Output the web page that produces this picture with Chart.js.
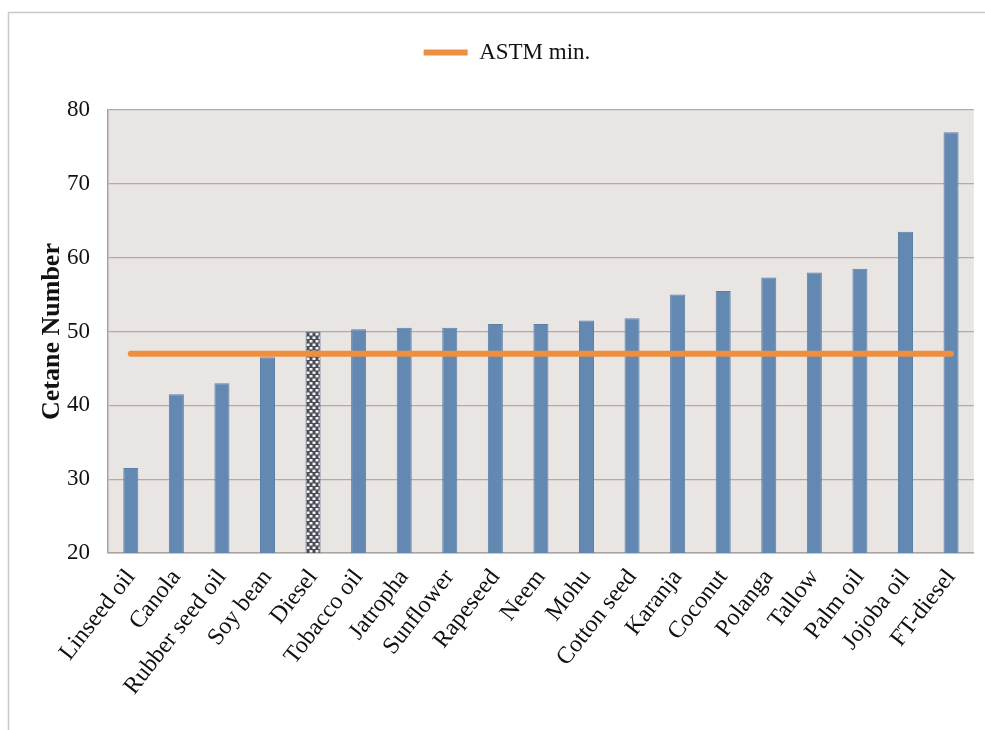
<!DOCTYPE html>
<html>
<head>
<meta charset="utf-8">
<title>Cetane Number</title>
<script src="https://cdn.jsdelivr.net/npm/chart.js@4.4.1/dist/chart.umd.min.js"></script>
<style>
  html, body { margin: 0; padding: 0; background: #ffffff; }
  #wrap { width: 985px; height: 730px; position: relative; }
</style>
</head>
<body>
<div id="wrap"><canvas id="chart" width="985" height="730"></canvas></div>
<script>
// Fuels and their cetane numbers
const categories = ['Linseed oil', 'Canola', 'Rubber seed oil', 'Soy bean', 'Diesel', 'Tobacco oil',
  'Jatropha', 'Sunflower', 'Rapeseed', 'Neem', 'Mohu', 'Cotton seed', 'Karanja', 'Coconut',
  'Polanga', 'Tallow', 'Palm oil', 'Jojoba oil', 'FT-diesel'];
const cetaneNumbers = [31.5, 41.5, 43, 46.5, 50, 50.3, 50.5, 50.5, 51, 51, 51.5, 51.8, 55, 55.5,
  57.3, 58, 58.5, 63.5, 77];
// ASTM minimum cetane number
const astmMinimum = 47;
const astmLabel = 'ASTM min.';
const yTicks = [20, 30, 40, 50, 60, 70, 80];
const referenceFuel = 'Diesel';

const SERIF = '"Liberation Serif", "Times New Roman", serif';
const BAR_BLUE = '#6388B1';

// Dotted brick fill for the reference fuel
function makeDotPattern() {
  const c = document.createElement('canvas');
  c.width = 6; c.height = 7;
  const g = c.getContext('2d');
  g.fillStyle = '#474C58';
  g.fillRect(0, 0, 6, 7);
  g.fillStyle = '#F6F2F0';
  g.fillRect(0.5, 0.5, 3, 2.5);
  g.fillRect(3.5, 4, 2.5, 2.5);
  g.fillRect(0, 4, 0.5, 2.5);
  return g.createPattern(c, 'repeat');
}
const dotPattern = makeDotPattern();

const barColors = categories.map(c => c === referenceFuel ? dotPattern : BAR_BLUE);
const barBorders = categories.map(c => c === referenceFuel ? '#5D6E86' : '#5B80A8');

// Plot background and outer frame
const backdrop = {
  id: 'backdrop',
  beforeDraw(chart) {
    const { ctx, chartArea: a } = chart;
    ctx.save();
    ctx.fillStyle = '#E9E5E3';
    ctx.fillRect(a.left, a.top, a.right - a.left, a.bottom - a.top);
    ctx.strokeStyle = '#CDC8C6';
    ctx.lineWidth = 1.5;
    ctx.beginPath();
    ctx.moveTo(8.5, 730);
    ctx.lineTo(8.5, 12.5);
    ctx.lineTo(985, 12.5);
    ctx.stroke();
    ctx.restore();
  }
};

// Extra room between the legend and the plot
const legendSpacing = {
  id: 'legendSpacing',
  beforeInit(chart) {
    const lg = chart.legend;
    const fit = lg.fit;
    lg.fit = function () {
      fit.call(this);
      this.height += 36;
    };
  }
};

new Chart(document.getElementById('chart'), {
  data: {
    labels: categories,
    datasets: [
      {
        type: 'line',
        label: astmLabel,
        data: categories.map(() => astmMinimum),
        borderColor: '#EE8F3F',
        backgroundColor: '#EE8F3F',
        borderWidth: 6,
        borderCapStyle: 'round',
        pointRadius: 0,
        pointHoverRadius: 0,
        pointStyle: 'line',
        order: 0
      },
      {
        type: 'bar',
        label: 'Cetane Number',
        data: cetaneNumbers,
        backgroundColor: barColors,
        borderColor: barBorders,
        borderWidth: 1,
        barPercentage: 0.33,
        categoryPercentage: 1.0,
        order: 1
      }
    ]
  },
  options: {
    responsive: false,
    animation: false,
    devicePixelRatio: 1,
    layout: { padding: { left: 39, right: 10, top: 31, bottom: 0 } },
    plugins: {
      tooltip: { enabled: false },
      legend: {
        position: 'top',
        align: 'center',
        labels: {
          filter: item => item.text === astmLabel,
          usePointStyle: true,
          pointStyle: 'line',
          pointStyleWidth: 44,
          padding: 10,
          color: '#111111',
          font: { family: SERIF, size: 23 }
        }
      }
    },
    scales: {
      x: {
        offset: true,
        grid: { display: false, drawTicks: false },
        border: { display: true, color: '#A9A3A1', width: 1.5 },
        ticks: {
          autoSkip: false,
          minRotation: 52,
          maxRotation: 52,
          padding: 11,
          color: '#111111',
          font: { family: SERIF, size: 24 }
        },
        afterFit(scale) { scale.height = 177; }
      },
      y: {
        min: 20,
        max: 80,
        afterBuildTicks(scale) { scale.ticks = yTicks.map(v => ({ value: v })); },
        grid: { color: '#B5A9A5', lineWidth: 1.2, drawTicks: false },
        border: { display: true, color: '#A9A3A1', width: 1.5 },
        ticks: {
          padding: 18,
          color: '#111111',
          font: { family: SERIF, size: 23 }
        },
        title: {
          display: true,
          text: 'Cetane Number',
          color: '#111111',
          padding: { top: 0, bottom: 0 },
          font: { family: SERIF, size: 26, weight: 'bold', lineHeight: 1 }
        },
        afterFit(scale) { scale.width = 69; }
      }
    }
  },
  plugins: [backdrop, legendSpacing]
});
</script>
</body>
</html>
